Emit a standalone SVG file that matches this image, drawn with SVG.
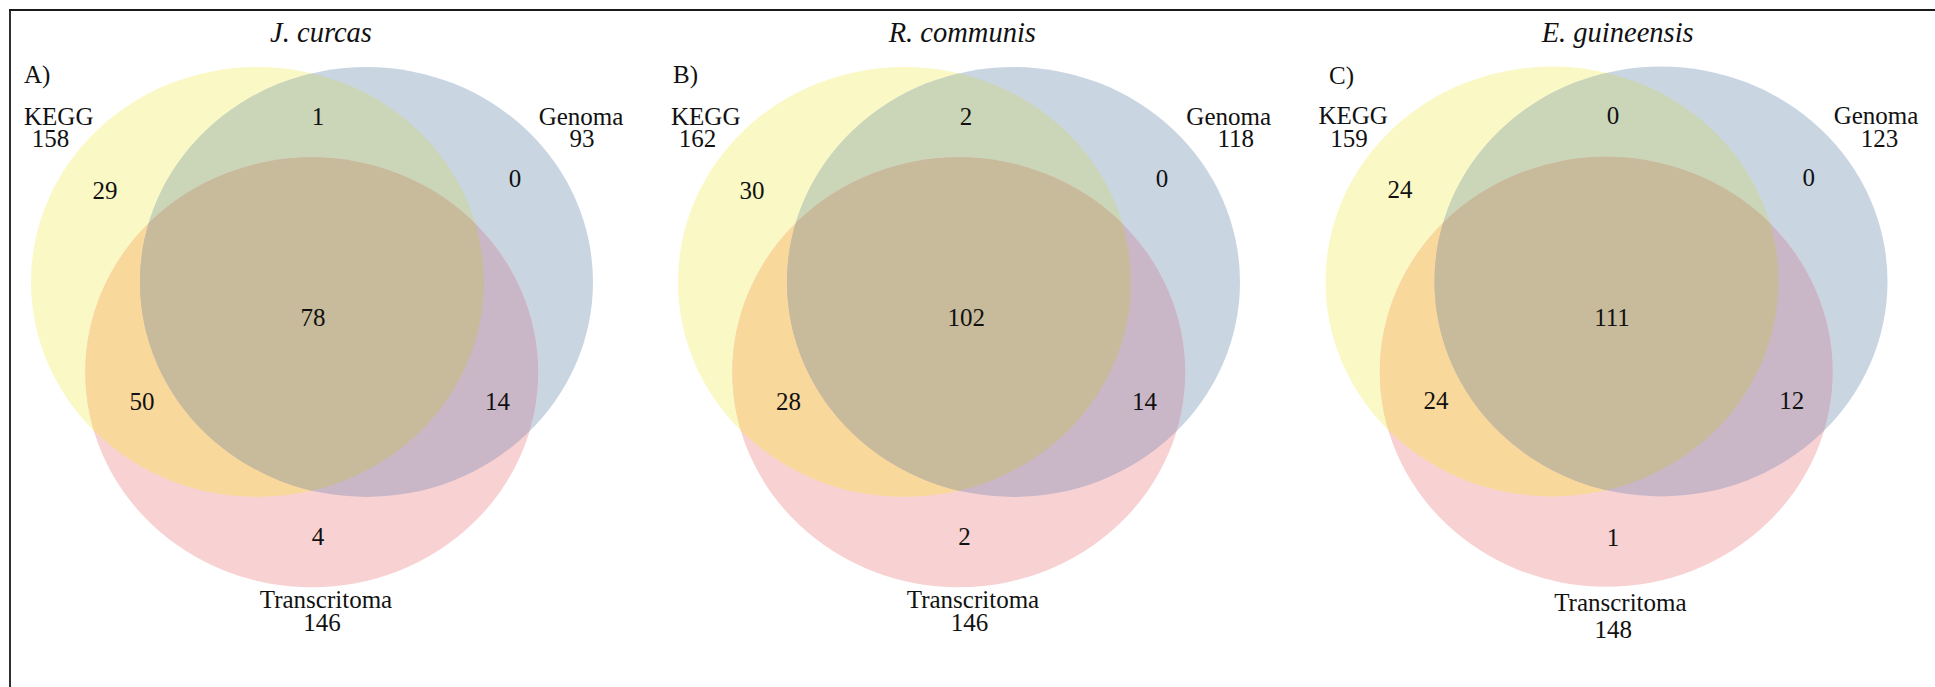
<svg xmlns="http://www.w3.org/2000/svg" xmlns:xlink="http://www.w3.org/1999/xlink" width="1935" height="687" viewBox="0 0 1935 687">
  <style>
    text { font-family: "Liberation Serif", "Times New Roman", serif; font-size: 25px; fill: #111; }
    .mid { text-anchor: middle; }
    .title { font-size: 28.5px; font-style: italic; text-anchor: middle; }
    .frame { stroke: #1a1a1a; stroke-width: 1.8; fill: none; }
    .fy { fill: #FAF8C5; }
    .fb { fill: #C9D6E2; }
    .fp { fill: #F8D2D3; }
    .fyb { fill: #CBD6B8; }
    .fyp { fill: #F9D89C; }
    .fbp { fill: #C9B7C8; }
    .fall { fill: #C8BB9B; }
  </style>
  <defs>
    <!-- the three sets, in panel-local coordinates -->
    <ellipse id="eY" cx="257.5" cy="282" rx="226.5" ry="215"/>
    <ellipse id="eB" cx="366.5" cy="282" rx="226.5" ry="215"/>
    <ellipse id="eP" cx="311.8" cy="372.3" rx="226.5" ry="215"/>
    <clipPath id="cY"><use xlink:href="#eY"/></clipPath>
    <clipPath id="cB"><use xlink:href="#eB"/></clipPath>
    <!-- one three-set Venn: single sets, pairwise overlaps, triple overlap -->
    <g id="venn">
      <use xlink:href="#eY" class="fy"/>
      <use xlink:href="#eB" class="fb"/>
      <use xlink:href="#eP" class="fp"/>
      <use xlink:href="#eB" class="fyb" clip-path="url(#cY)"/>
      <use xlink:href="#eP" class="fyp" clip-path="url(#cY)"/>
      <use xlink:href="#eP" class="fbp" clip-path="url(#cB)"/>
      <g clip-path="url(#cY)">
        <use xlink:href="#eP" class="fall" clip-path="url(#cB)"/>
      </g>
    </g>
  </defs>

  <!-- frame (top and left rules) -->
  <g id="frame">
    <line class="frame" x1="9" y1="10" x2="1935" y2="10"/>
    <line class="frame" x1="10" y1="9" x2="10" y2="687"/>
  </g>

  <!-- Panel A -->
  <g id="panel-a">
    <use xlink:href="#venn"/>
    <text class="title" x="321" y="41.5">J. curcas</text>
    <text x="24" y="83">A)</text>
    <text x="24" y="125">KEGG</text>
    <text class="mid" x="50.4" y="147">158</text>
    <text class="mid" x="581" y="125">Genoma</text>
    <text class="mid" x="582" y="147">93</text>
    <text class="mid" x="318" y="125">1</text>
    <text class="mid" x="105" y="199">29</text>
    <text class="mid" x="515" y="187">0</text>
    <text class="mid" x="313" y="326">78</text>
    <text class="mid" x="142" y="410">50</text>
    <text class="mid" x="497.5" y="410">14</text>
    <text class="mid" x="318" y="545">4</text>
    <text class="mid" x="326" y="608">Transcritoma</text>
    <text class="mid" x="322" y="631">146</text>
  </g>

  <!-- Panel B -->
  <g id="panel-b">
    <use xlink:href="#venn" transform="translate(647,0)"/>
    <text class="title" x="962.3" y="41.5">R. communis</text>
    <text x="673" y="83">B)</text>
    <text x="671" y="125">KEGG</text>
    <text class="mid" x="697.6" y="147">162</text>
    <text class="mid" x="1228.7" y="125">Genoma</text>
    <text class="mid" x="1235.8" y="147">118</text>
    <text class="mid" x="966" y="125">2</text>
    <text class="mid" x="752" y="199">30</text>
    <text class="mid" x="1162" y="187">0</text>
    <text class="mid" x="966.3" y="326">102</text>
    <text class="mid" x="788.4" y="410">28</text>
    <text class="mid" x="1144.6" y="410">14</text>
    <text class="mid" x="964.6" y="545">2</text>
    <text class="mid" x="973" y="608">Transcritoma</text>
    <text class="mid" x="969.6" y="631">146</text>
  </g>

  <!-- Panel C -->
  <g id="panel-c">
    <use xlink:href="#venn" transform="translate(1294.5,-0.5)"/>
    <text class="title" x="1617.7" y="41.8">E. guineensis</text>
    <text x="1329" y="83.5">C)</text>
    <text x="1318.4" y="124">KEGG</text>
    <text class="mid" x="1349" y="146.5">159</text>
    <text class="mid" x="1876" y="124">Genoma</text>
    <text class="mid" x="1879.4" y="146.5">123</text>
    <text class="mid" x="1613" y="124">0</text>
    <text class="mid" x="1400" y="198">24</text>
    <text class="mid" x="1808.8" y="186">0</text>
    <text class="mid" x="1612" y="326">111</text>
    <text class="mid" x="1436" y="409">24</text>
    <text class="mid" x="1791.7" y="409">12</text>
    <text class="mid" x="1613" y="546">1</text>
    <text class="mid" x="1620.4" y="610.7">Transcritoma</text>
    <text class="mid" x="1613.3" y="638">148</text>
  </g>
</svg>
